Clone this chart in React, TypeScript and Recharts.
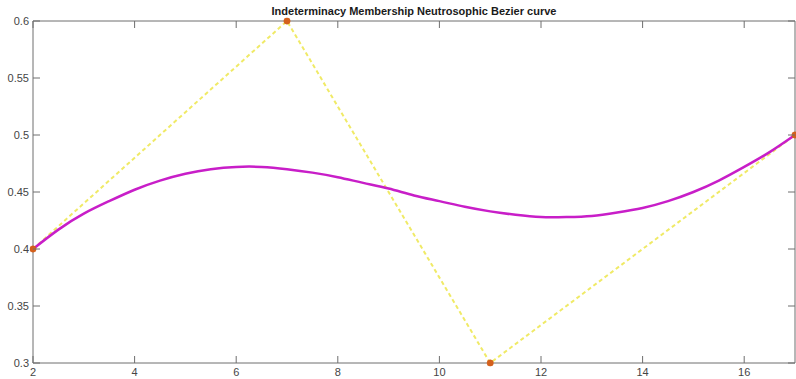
import { ComposedChart, Line, XAxis, YAxis } from 'recharts';

// control polygon of the Bezier curve
const ctrlX = [2, 7, 11, 17];
const ctrlY = [0.4, 0.6, 0.3, 0.5];

// curve
const curveX = [2, 2.5, 3, 3.5, 4, 4.5, 5, 5.5, 6, 6.5, 7, 7.5, 8, 8.5, 9, 9.5, 10, 10.5, 11, 11.5, 12, 12.5, 13, 13.5, 14, 14.5, 15, 15.5, 16, 16.5, 17];
const curveY = [0.4, 0.417, 0.431, 0.442, 0.452, 0.46, 0.466, 0.47, 0.472, 0.472, 0.47, 0.467, 0.463, 0.458, 0.453, 0.447, 0.442, 0.437, 0.433, 0.43, 0.428, 0.428, 0.429, 0.432, 0.436, 0.442, 0.45, 0.46, 0.472, 0.485, 0.5];

const xTicks = [2, 4, 6, 8, 10, 12, 14, 16];
const yTicks = [0.3, 0.35, 0.4, 0.45, 0.5, 0.55, 0.6];

const ctrlData = ctrlX.map((x, i) => ({ x, y: ctrlY[i] }));
const curveData = curveX.map((x, i) => ({ x, y: curveY[i] }));

const M = 4;
const TL = 7;
const AXIS = '#6e6e6e';
const LABEL = '#454545';
const FONT = '"Liberation Sans", Arial, sans-serif';

const BottomTick = (p: any) => (
  <g>
    <line x1={p.x} x2={p.x} y1={p.y - M} y2={p.y - M - TL} stroke={AXIS} />
    <text x={p.x} y={p.y} dy="0.85em" textAnchor="middle" fontSize={11} fill={LABEL} fontFamily={FONT}>
      {p.payload.value}
    </text>
  </g>
);

const LeftTick = (p: any) => (
  <g>
    <line x1={p.x + M} x2={p.x + M + TL} y1={p.y} y2={p.y} stroke={AXIS} />
    <text x={p.x} y={p.y} dy="0.36em" textAnchor="end" fontSize={11} fill={LABEL} fontFamily={FONT}>
      {p.payload.value}
    </text>
  </g>
);

const TopTick = (p: any) => (
  <line x1={p.x} x2={p.x} y1={p.y + M} y2={p.y + M + TL} stroke={AXIS} />
);

const RightTick = (p: any) => (
  <line x1={p.x - M} x2={p.x - M - TL} y1={p.y} y2={p.y} stroke={AXIS} />
);

export default function App() {
  return (
    <div style={{ position: 'absolute', left: 0, top: 0, width: 796, height: 379, background: '#fff' }}>
      <div
        style={{
          position: 'absolute',
          left: 0,
          width: 828,
          top: 4,
          textAlign: 'center',
          fontFamily: FONT,
          fontWeight: 'bold',
          fontSize: 11,
          color: '#1a1a1a',
          lineHeight: '14px',
        }}
      >
        Indeterminacy Membership Neutrosophic Bezier curve
      </div>
      <ComposedChart width={796} height={379} margin={{ top: 0, right: 0, bottom: 0, left: 0 }}>
        <XAxis
          dataKey="x"
          type="number"
          domain={[2, 17]}
          ticks={xTicks}
          height={16}
          tickSize={0}
          tickMargin={M}
          tickLine={false}
          stroke={AXIS}
          tick={BottomTick}
          allowDataOverflow
        />
        <XAxis
          xAxisId="top"
          orientation="top"
          dataKey="x"
          type="number"
          domain={[2, 17]}
          ticks={xTicks}
          height={21}
          tickSize={0}
          tickMargin={M}
          tickLine={false}
          stroke={AXIS}
          tick={TopTick}
          allowDataOverflow
        />
        <YAxis
          dataKey="y"
          type="number"
          domain={[0.3, 0.6]}
          ticks={yTicks}
          width={33}
          tickSize={0}
          tickMargin={M}
          tickLine={false}
          stroke={AXIS}
          tick={LeftTick}
          allowDataOverflow
        />
        <YAxis
          yAxisId="right"
          orientation="right"
          dataKey="y"
          type="number"
          domain={[0.3, 0.6]}
          ticks={yTicks}
          width={1}
          tickSize={0}
          tickMargin={M}
          tickLine={false}
          stroke={AXIS}
          tick={RightTick}
          allowDataOverflow
        />
        <Line
          data={ctrlData}
          dataKey="y"
          type="linear"
          stroke="#f0ea66"
          strokeWidth={2}
          strokeDasharray="4 3"
          dot={false}
          isAnimationActive={false}
        />
        <Line
          data={curveData}
          dataKey="y"
          type="natural"
          stroke="#c81ec8"
          strokeWidth={2.5}
          dot={false}
          isAnimationActive={false}
        />
        <Line
          data={ctrlData}
          dataKey="y"
          type="linear"
          stroke="none"
          dot={{ r: 3.2, fill: '#d4601c', stroke: '#d4601c', strokeWidth: 0.5, clipDot: false }}
          isAnimationActive={false}
        />
      </ComposedChart>
    </div>
  );
}
